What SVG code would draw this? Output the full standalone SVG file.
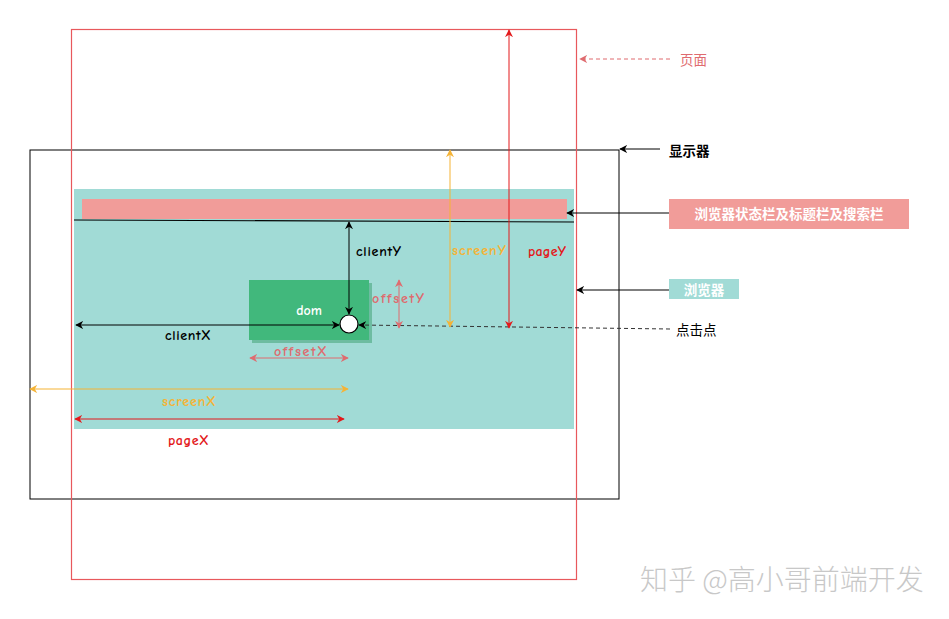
<svg xmlns="http://www.w3.org/2000/svg" width="949" height="619" viewBox="0 0 949 619">
<style>
.lbl{font-family:"Comic Sans MS","Comic Neue","DejaVu Sans",sans-serif;font-size:14px;font-weight:bold}
.cn{font-family:"Noto Sans CJK SC",sans-serif;font-size:13.5px}
.b{font-weight:bold}
</style>
<defs>
<marker id="ak" viewBox="0 0 10 10" refX="9" refY="5" markerWidth="8" markerHeight="8" markerUnits="userSpaceOnUse" orient="auto-start-reverse"><path d="M0,0 L10,5 L0,10 L3,5 Z" fill="#000"/></marker>
<marker id="ar" viewBox="0 0 10 10" refX="9" refY="5" markerWidth="8" markerHeight="8" markerUnits="userSpaceOnUse" orient="auto-start-reverse"><path d="M0,0 L10,5 L0,10 L3,5 Z" fill="#e3191b"/></marker>
<marker id="ao" viewBox="0 0 10 10" refX="9" refY="5" markerWidth="8" markerHeight="8" markerUnits="userSpaceOnUse" orient="auto-start-reverse"><path d="M0,0 L10,5 L0,10 L3,5 Z" fill="#f5b335"/></marker>
<marker id="ap" viewBox="0 0 10 10" refX="9" refY="5" markerWidth="8" markerHeight="8" markerUnits="userSpaceOnUse" orient="auto-start-reverse"><path d="M0,0 L10,5 L0,10 L3,5 Z" fill="#df6b6f"/></marker>
</defs>
<rect width="949" height="619" fill="#fff"/>

<g id="monitor"><rect x="30" y="150" width="589" height="349" fill="none" stroke="#000" stroke-width="1"/></g>
<g id="browser"><rect x="74" y="189" width="500" height="240" fill="#a1dbd6"/></g>
<g id="statusbar"><rect x="82" y="199" width="485" height="20" fill="#f19c99"/></g>
<g id="page"><rect x="71.5" y="29.5" width="505" height="550" fill="none" stroke="#e8585c" stroke-width="1.2"/></g>
<g id="dom">
<rect x="252" y="283" width="120" height="60" fill="#3a9e6c" opacity="0.5"/>
<rect x="249" y="280" width="120" height="60" fill="#41b87c"/>
<text x="309" y="315" text-anchor="middle" class="lbl" fill="#fff" font-size="16">dom</text>
</g>

<g id="connectors" fill="none">
<line x1="74" y1="220" x2="574" y2="222" stroke="#000" stroke-width="1.2"/>
<line x1="349" y1="222" x2="349" y2="314" stroke="#000" marker-start="url(#ak)" marker-end="url(#ak)"/>
<line x1="76" y1="325" x2="339" y2="325" stroke="#000" marker-start="url(#ak)" marker-end="url(#ak)"/>
<line x1="670" y1="329" x2="359" y2="325" stroke="#333" stroke-dasharray="4 3" marker-end="url(#ak)"/>
<line x1="399" y1="280" x2="399" y2="328" stroke="#df6b6f" marker-start="url(#ap)" marker-end="url(#ap)"/>
<line x1="250" y1="358" x2="348" y2="358" stroke="#df6b6f" marker-start="url(#ap)" marker-end="url(#ap)"/>
<line x1="450" y1="150" x2="450" y2="327" stroke="#f5b335" marker-start="url(#ao)" marker-end="url(#ao)"/>
<line x1="509" y1="30" x2="509" y2="328" stroke="#e3191b" marker-start="url(#ar)" marker-end="url(#ar)"/>
<line x1="30" y1="389" x2="348" y2="389" stroke="#f5b335" marker-start="url(#ao)" marker-end="url(#ao)"/>
<line x1="75" y1="419" x2="344" y2="419" stroke="#e3191b" marker-start="url(#ar)" marker-end="url(#ar)"/>
<line x1="670" y1="59" x2="580" y2="59" stroke="#df6b6f" stroke-dasharray="4 3" marker-end="url(#ap)"/>
<line x1="660" y1="149" x2="620" y2="149" stroke="#000" marker-end="url(#ak)"/>
<line x1="669" y1="213" x2="567" y2="213" stroke="#000" marker-end="url(#ak)"/>
<line x1="669" y1="290" x2="577" y2="290" stroke="#000" marker-end="url(#ak)"/>
</g>

<g id="clickpoint"><circle cx="349" cy="324" r="9" fill="#fff" stroke="#000" stroke-width="1.2"/></g>

<g id="labels">
<text x="356" y="256" class="lbl" fill="#000" textLength="45">clientY</text>
<text x="165" y="340" class="lbl" fill="#000" textLength="46">clientX</text>
<text x="372" y="303" class="lbl" fill="#df6b6f" textLength="52">offsetY</text>
<text x="274" y="356" class="lbl" fill="#df6b6f" textLength="53">offsetX</text>
<text x="452" y="255" class="lbl" fill="#f5b335" textLength="54">screenY</text>
<text x="528" y="256" class="lbl" fill="#e3191b" textLength="38">pageY</text>
<text x="162" y="406" class="lbl" fill="#f5b335" textLength="54">screenX</text>
<text x="168" y="445" class="lbl" fill="#e3191b" textLength="41">pageX</text>
</g>

<g id="label-page"><text x="680" y="65" class="cn" fill="#df6b6f" font-size="12">页面</text></g>
<g id="label-monitor"><text x="669" y="156" class="cn b" fill="#000">显示器</text></g>
<g id="label-statusbar">
<rect x="669" y="199" width="240" height="30" fill="#f19c99"/>
<text x="789" y="219" text-anchor="middle" class="cn b" fill="#fff" font-size="14">浏览器状态栏及标题栏及搜索栏</text>
</g>
<g id="label-browser">
<rect x="669" y="279" width="70" height="20" fill="#a1dbd6"/>
<text x="704" y="294.5" text-anchor="middle" class="cn b" fill="#fff" font-size="14">浏览器</text>
</g>
<g id="label-click"><text x="676" y="335" class="cn" fill="#000">点击点</text></g>

<g id="watermark"><text x="640" y="590" font-family="Noto Sans CJK SC,sans-serif" font-size="28" font-weight="300" fill="#c8c8c8">知乎 @高小哥前端开发</text></g>
</svg>
